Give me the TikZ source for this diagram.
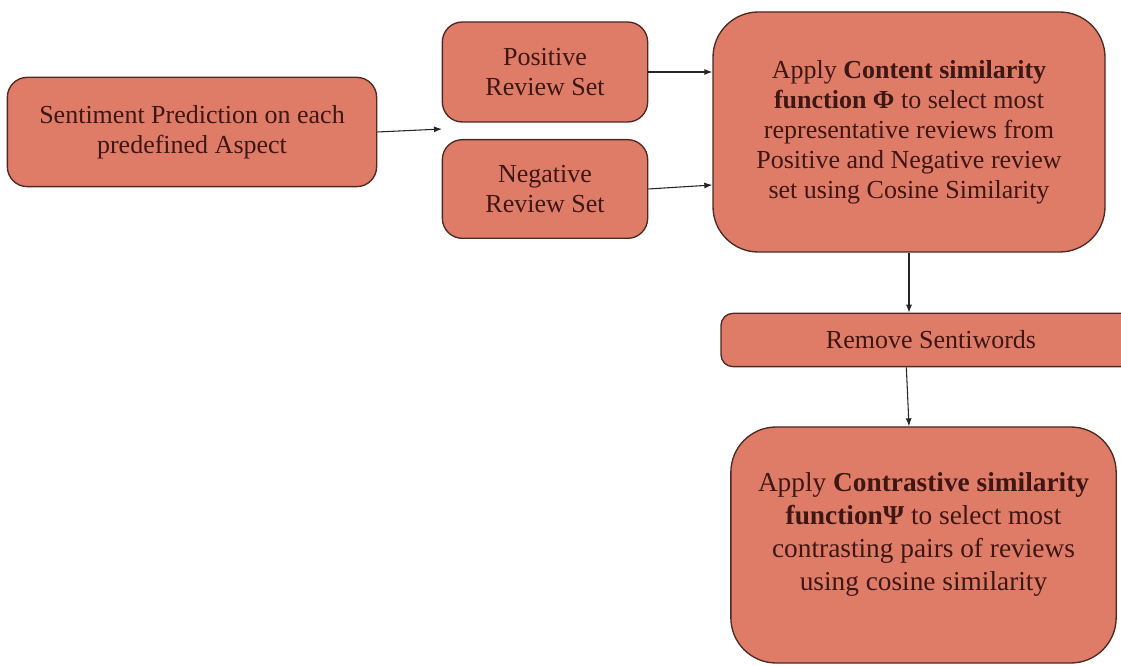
\documentclass[tikz,border=0pt]{standalone}
\usepackage{fontspec}
\setmainfont{Liberation Serif}
\usepackage{xcolor}
\usetikzlibrary{arrows.meta,positioning}

\definecolor{boxfill}{RGB}{223,124,104}
\definecolor{boxline}{RGB}{78,40,34}
\definecolor{boxtext}{RGB}{62,22,20}

\begin{document}
\begin{tikzpicture}[
  x=0.75pt, y=-0.75pt,
  block/.style={draw=boxline, line width=1pt, fill=boxfill, text=boxtext,
    rounded corners=15pt, align=center, inner sep=0pt,
    font=\fontsize{19.5}{22.5}\selectfont},
  arr/.style={-{Latex[length=6pt,width=4.5pt]}, line width=0.8pt, draw=black!85},
]
\clip (0,0) rectangle (1121,666);

% Prediction
\node[block, minimum width=277pt, minimum height=82pt] (sent) at (192,132) {%
  Sentiment Prediction on each\\
  predefined Aspect};
\coordinate (split) at (442,129);

% Review sets
\node[block, minimum width=154pt, minimum height=75pt] (pos) at (545,72) {%
  Positive\\
  Review Set};
\node[block, minimum width=154pt, minimum height=74pt] (neg) at (545,189) {%
  Negative\\
  Review Set};

% Content similarity
\node[block, rounded corners=34pt, minimum width=294pt, minimum height=180pt]
  (content) at (909,132) {%
  Apply \textbf{Content similarity}\\
  \textbf{function Φ} to select most\\
  representative reviews from\\
  Positive and Negative review\\
  set using Cosine Similarity};

% Sentiwords
\node[block, rounded corners=9pt, minimum width=315pt, minimum height=40pt]
  (remove) at (931,340) {Remove Sentiwords};

% Contrastive similarity
\node[block, rounded corners=34pt, minimum width=289pt, minimum height=177pt,
  font=\fontsize{20.5}{24.75}\selectfont] (contrast) at (923.5,545) {%
  Apply \textbf{Contrastive similarity}\\
  \textbf{functionΨ} to select most\\
  contrasting pairs of reviews\\
  using cosine similarity\\[-4pt]
  \mbox{}};

% Arrows
\draw[arr] (sent.east) -- (split);
\draw[arr] (pos.east) -- (pos.east -| content.west);
\draw[arr] (neg.east) -- ([yshift=3pt]neg.east -| content.west);
\draw[arr] (content.south) -- (content.south |- remove.north);
\draw[arr] ([xshift=-2pt]content.south |- remove.south) -- (content.south |- contrast.north);

\end{tikzpicture}
\end{document}
